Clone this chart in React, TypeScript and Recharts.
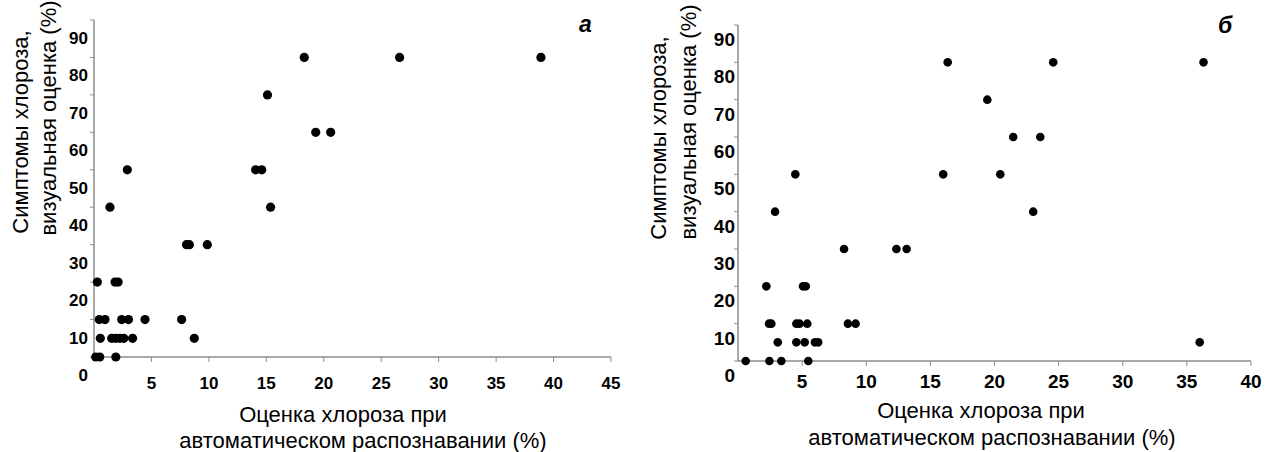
import React from "react";
import { Label, Scatter, ScatterChart, XAxis, YAxis } from "recharts";

// Panel а: automatic estimate (x, %) vs visual score (y, %)
const autoA = [
  0.15, 0.5, 1.9,
  0.55, 1.54, 1.9, 2.26, 2.6, 3.36, 8.73,
  0.46, 0.96, 2.41, 3.0, 4.44, 7.63,
  0.29, 1.83, 2.1,
  8.05, 8.3, 9.86,
  1.39, 15.37,
  2.9, 14.07, 14.6,
  19.3, 20.6,
  15.1,
  18.3, 26.6, 38.9,
];
const visualA = [
  0, 0, 0,
  5, 5, 5, 5, 5, 5, 5,
  10, 10, 10, 10, 10, 10,
  20, 20, 20,
  30, 30, 30,
  40, 40,
  50, 50, 50,
  60, 60,
  70,
  80, 80, 80,
];

// Panel б
const autoB = [
  0.6, 2.45, 3.38, 5.48,
  3.1, 4.55, 5.2, 6.0, 6.25, 36.0,
  2.42, 2.6, 4.55, 4.8, 5.4, 8.57, 9.17,
  2.21, 5.07, 5.28,
  8.27, 12.35, 13.15,
  2.89, 23.02,
  4.47, 16.0, 20.45,
  21.46, 23.57,
  19.44,
  16.35, 24.58, 36.3,
];
const visualB = [
  0, 0, 0, 0,
  5, 5, 5, 5, 5, 5,
  10, 10, 10, 10, 10, 10, 10,
  20, 20, 20,
  30, 30, 30,
  40, 40,
  50, 50, 50,
  60, 60,
  70,
  80, 80, 80,
];

const xTicksA = [5, 10, 15, 20, 25, 30, 35, 40, 45];
const xTicksB = [5, 10, 15, 20, 25, 30, 35, 40];
const yTicks = [0, 10, 20, 30, 40, 50, 60, 70, 80, 90];

const yTitle = ["Симптомы хлороза,", "визуальная оценка (%)"];
const xTitle = ["Оценка хлороза при", "автоматическом распознавании (%)"];

const dataA = autoA.map((x, i) => ({ x, y: visualA[i] }));
const dataB = autoB.map((x, i) => ({ x, y: visualB[i] }));

const FONT = "'Liberation Sans', Arial, sans-serif";
const AXIS = "#8c8c8c";

const dot = (r: number) => (p: any) => (
  <circle cx={p.cx} cy={p.cy} r={r} fill="#000" />
);

const yTick = (dx: number, dy: number, size: number) => (p: any) => (
  <text
    x={p.x + dx}
    y={p.y}
    dy={dy}
    textAnchor="end"
    fontFamily={FONT}
    fontWeight="bold"
    fontSize={size}
    fill="#000"
  >
    {p.payload.value}
  </text>
);

const xTick = (dy: number, size: number) => (p: any) => (
  <text
    x={p.x}
    y={p.y}
    dy={dy}
    textAnchor="middle"
    fontFamily={FONT}
    fontWeight="bold"
    fontSize={size}
    fill="#000"
  >
    {p.payload.value}
  </text>
);

// two rotated lines, each given by its centre
const YTitle = ({ pos }: { pos: number[][] }) => (
  <g fontFamily={FONT} fontSize={22} fill="#000">
    {yTitle.map((t, i) => (
      <text
        key={i}
        transform={`translate(${pos[i][0]},${pos[i][1]}) rotate(-90)`}
        textAnchor="middle"
        dy="0.35em"
      >
        {t}
      </text>
    ))}
  </g>
);

const XTitle = ({ pos }: { pos: number[][] }) => (
  <g fontFamily={FONT} fontSize={22} fill="#000">
    {xTitle.map((t, i) => (
      <text key={i} x={pos[i][0]} y={pos[i][1]} textAnchor="middle" dy="0.35em">
        {t}
      </text>
    ))}
  </g>
);

const letter: React.CSSProperties = {
  position: "absolute",
  fontFamily: FONT,
  fontWeight: "bold",
  fontStyle: "italic",
  fontSize: 23,
  lineHeight: "23px",
};

export default function App() {
  return (
    <div
      style={{
        position: "absolute",
        left: 0,
        top: 0,
        width: 1274,
        height: 452,
        background: "#fff",
        overflow: "hidden",
      }}
    >
      <div style={{ position: "absolute", left: 0, top: 0 }}>
        <ScatterChart
          width={637}
          height={452}
          margin={{ top: 20, right: 26, bottom: 0, left: 0 }}
        >
          <XAxis
            type="number"
            dataKey="x"
            domain={[0, 45]}
            ticks={xTicksA}
            height={95}
            tickSize={5}
            stroke={AXIS}
            axisLine={{ stroke: AXIS, strokeWidth: 1.5 }}
            tickLine={{ stroke: AXIS }}
            tick={xTick(25, 17)}
          >
            <Label content={() => <XTitle pos={[[343, 414], [363, 440]]} />} />
          </XAxis>
          <YAxis
            type="number"
            dataKey="y"
            domain={[0, 90]}
            ticks={yTicks}
            width={94}
            tickSize={4}
            stroke={AXIS}
            axisLine={{ stroke: AXIS, strokeWidth: 1.5 }}
            tickLine={{ stroke: AXIS }}
            tick={yTick(0, 24, 17)}
          >
            <Label content={() => <YTitle pos={[[20, 132], [48, 118]]} />} />
          </YAxis>
          <Scatter data={dataA} shape={dot(4.6)} isAnimationActive={false} />
        </ScatterChart>
      </div>

      <div style={{ position: "absolute", left: 637, top: 0 }}>
        <ScatterChart
          width={637}
          height={452}
          margin={{ top: 25, right: 23, bottom: 0, left: 0 }}
        >
          <XAxis
            type="number"
            dataKey="x"
            domain={[0, 40]}
            ticks={xTicksB}
            height={91}
            tickSize={5}
            stroke={AXIS}
            axisLine={{ stroke: AXIS, strokeWidth: 1.5 }}
            tickLine={{ stroke: AXIS }}
            tick={xTick(20, 19)}
          >
            <Label content={() => <XTitle pos={[[344, 410], [355, 437]]} />} />
          </XAxis>
          <YAxis
            type="number"
            dataKey="y"
            domain={[0, 90]}
            ticks={yTicks}
            width={101}
            tickSize={4}
            stroke={AXIS}
            axisLine={{ stroke: AXIS, strokeWidth: 1.5 }}
            tickLine={{ stroke: AXIS }}
            tick={yTick(3, 21, 19)}
          >
            <Label content={() => <YTitle pos={[[21, 138], [51, 122]]} />} />
          </YAxis>
          <Scatter data={dataB} shape={dot(4.3)} isAnimationActive={false} />
        </ScatterChart>
      </div>

      <div style={{ ...letter, left: 579, top: 13 }}>а</div>
      <div style={{ ...letter, left: 1218, top: 14 }}>б</div>
    </div>
  );
}
